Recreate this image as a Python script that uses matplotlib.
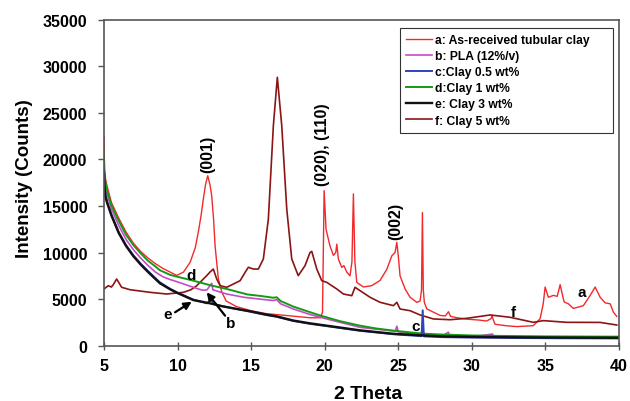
import matplotlib
matplotlib.use("Agg")
import matplotlib.pyplot as plt

plt.rcParams['font.family'] = ['Liberation Sans', 'DejaVu Sans']
plt.rcParams['font.weight'] = 'bold'

# ---- data (2-theta, counts) ----
series_a = [(5.0, 22500), (5.03, 19000), (5.1, 17900), (5.2, 17200), (5.5, 15400), (6.0, 13700),
            (6.5, 12200), (7.0, 11000), (7.5, 10100), (8.0, 9400), (8.5, 8800), (9.0, 8300),
            (9.5, 7900), (9.94, 7550), (10.4, 7900), (10.85, 8950), (11.2, 10500), (11.41, 12200),
            (11.6, 14000), (11.75, 15750), (11.9, 17300), (12.05, 18250), (12.2, 17300), (12.32, 16100),
            (12.45, 13500), (12.55, 10700), (12.77, 7200), (13.0, 5800), (13.3, 4800), (14.0, 4200),
            (15.0, 3750), (16.0, 3450), (17.0, 3300), (18.0, 3150), (19.0, 3000), (19.7, 3000),
            (19.85, 3600), (19.96, 16650), (20.09, 12500), (20.36, 10700), (20.59, 9700), (20.75, 10000),
            (20.82, 10900), (20.93, 9300), (21.16, 8400), (21.3, 8600), (21.5, 7900), (21.72, 7500),
            (21.85, 9000), (21.95, 16300), (22.05, 9000), (22.18, 6800), (22.63, 6300), (23.2, 6450),
            (23.76, 7000), (24.22, 8200), (24.56, 9650), (24.78, 10000), (24.9, 11100), (25.0, 9650),
            (25.12, 7500), (25.46, 6100), (25.8, 5200), (26.26, 4650), (26.48, 4800), (26.58, 6000),
            (26.64, 14300), (26.7, 6000), (26.77, 4650), (26.94, 3950), (27.39, 3600), (27.84, 3250),
            (28.2, 3200), (28.41, 3650), (28.55, 3150), (29.0, 3000), (29.66, 2850), (30.5, 2750),
            (31.0, 2650), (31.3, 2900), (31.38, 3250), (31.45, 2800), (31.58, 2300), (32.3, 2150),
            (33.05, 2050), (34.18, 2150), (34.64, 2900), (34.85, 4500), (34.98, 6300), (35.2, 5200),
            (35.54, 5400), (35.8, 5300), (36.0, 6550), (36.15, 5500), (36.27, 4700), (36.56, 4500),
            (36.9, 4000), (37.58, 4300), (38.04, 5400), (38.38, 6300), (38.72, 5200), (39.06, 4600),
            (39.4, 4500), (39.62, 3600), (39.85, 3150)]

series_b = [(5.0, 19500), (5.03, 17500), (5.1, 16800), (5.2, 16300), (5.5, 14700), (6.0, 12900),
            (6.5, 11400), (7.0, 10300), (7.5, 9400), (8.0, 8600), (8.5, 7900), (9.0, 7400),
            (9.5, 7100), (10.0, 6850), (11.07, 6270), (11.7, 5950), (12.0, 6000), (12.32, 6700),
            (12.4, 6000), (13.34, 5550), (14.5, 5200), (15.6, 5000), (16.5, 4850), (16.74, 4950),
            (17.0, 4500), (17.87, 3940), (19.0, 3350), (20.14, 2870), (22.4, 1970), (24.8, 1550),
            (24.9, 2100), (25.0, 1500), (26.0, 1250), (26.94, 1100), (28.0, 1050), (28.4, 1450),
            (28.5, 1000), (30.0, 950), (31.4, 1250), (31.5, 950), (35.0, 900), (40.0, 870)]

series_c = [(5.0, 19000), (5.03, 17200), (5.1, 16200), (5.2, 15500), (5.5, 14100), (6.0, 12200),
            (6.5, 10800), (7.0, 9700), (7.5, 8800), (8.0, 8000), (8.8, 6800), (9.5, 6100),
            (10.0, 5700), (11.07, 4950), (12.0, 4550), (12.3, 5000), (12.4, 4500), (13.0, 4250),
            (14.0, 3950), (14.93, 3650), (16.0, 3300), (16.74, 3100), (17.87, 2650), (19.0, 2350),
            (20.14, 2100), (22.4, 1600), (24.67, 1230), (26.58, 1020), (26.66, 3800), (26.74, 1000),
            (28.0, 920), (30.0, 870), (33.0, 830), (36.0, 800), (40.0, 780)]

series_d = [(5.0, 20400), (5.03, 18500), (5.1, 17500), (5.2, 16700), (5.5, 15100), (6.0, 13400),
            (6.5, 11900), (7.0, 10800), (7.5, 9900), (8.0, 9100), (8.5, 8500), (8.8, 8100),
            (9.5, 7600), (10.0, 7400), (11.07, 6980), (12.2, 6500), (13.34, 6090), (14.75, 5500),
            (15.6, 5350), (16.5, 5150), (16.74, 5200), (17.0, 4800), (17.87, 4200), (19.0, 3600),
            (19.68, 3250), (21.0, 2650), (22.4, 2150), (23.5, 1850), (24.67, 1620), (26.0, 1400),
            (26.94, 1270), (28.0, 1200), (30.0, 1100), (32.0, 1050), (35.0, 1000), (38.0, 980),
            (40.0, 970)]

series_e = [(5.0, 18500), (5.03, 17000), (5.1, 16000), (5.2, 15400), (5.5, 14000), (6.0, 12100),
            (6.5, 10700), (7.0, 9600), (7.5, 8700), (8.0, 7900), (8.8, 6700), (9.5, 6050),
            (10.0, 5650), (11.07, 4900), (12.2, 4550), (13.0, 4250), (14.0, 3950), (14.93, 3700),
            (16.0, 3350), (16.74, 3150), (17.87, 2700), (19.0, 2400), (20.14, 2150), (22.4, 1650),
            (24.67, 1280), (26.94, 1080), (28.0, 1000), (30.0, 950), (33.0, 900), (36.0, 870),
            (40.0, 850)]

series_f = [(5.0, 6090), (5.29, 6440), (5.5, 6300), (5.63, 6550), (5.86, 7160), (6.2, 6270),
            (6.77, 6010), (8.13, 5730), (9.26, 5550), (10.39, 5730), (10.9, 6000), (11.3, 6440),
            (11.98, 7520), (12.2, 7900), (12.43, 8230), (12.66, 7160), (12.89, 6440), (13.34, 6270),
            (14.25, 6980), (14.6, 7900), (14.81, 8420), (15.15, 8230), (15.49, 8230), (15.83, 9310),
            (16.17, 13600), (16.51, 23620), (16.78, 28820), (17.08, 23620), (17.42, 14680),
            (17.76, 9310), (18.2, 7520), (18.66, 8590), (19.0, 10000), (19.12, 10130), (19.46, 8230),
            (19.8, 6980), (20.14, 6800), (20.82, 6090), (21.27, 5550), (21.84, 5370), (22.06, 6270),
            (22.4, 5910), (23.08, 5200), (23.76, 4660), (24.67, 4300), (24.9, 4660), (25.12, 3940),
            (25.8, 3760), (26.48, 3300), (27.39, 2870), (28.52, 2790), (29.66, 2940), (31.24, 3300),
            (32.6, 3050), (34.18, 2510), (34.86, 2690), (36.45, 2510), (38.72, 2500), (39.85, 2220)]

labels = ['a: As-received tubular clay', 'b: PLA (12%/v)', 'c:Clay 0.5 wt%',
          'd:Clay 1 wt%', 'e: Clay 3 wt%', 'f: Clay 5 wt%']
colors = ['#f2292b', '#c84ac8', '#2f44b8', '#159a15', '#111111', '#8b1414']
widths = [1.0, 1.2, 1.4, 1.4, 1.7, 1.2]
all_series = [series_a, series_b, series_c, series_d, series_e, series_f]

x_ticks = [5, 10, 15, 20, 25, 30, 35, 40]
y_ticks = [0, 5000, 10000, 15000, 20000, 25000, 30000, 35000]

peak_labels = [('(001)', 12.05, 18700), ('(020), (110)', 19.85, 17200), ('(002)', 24.85, 11500)]
curve_letters = [('a', 37.5, 5750), ('f', 32.85, 3600), ('c', 26.2, 2150), ('d', 10.9, 7600),
                 ('e', 9.35, 3350), ('b', 13.6, 2450)]
# arrows: (tail x, tail y) -> (head x, head y)
arrows = [((9.83, 3590), (10.96, 4720)), ((13.23, 3220), (11.98, 5730))]

# ---- figure ----
fig = plt.figure(figsize=(6.3, 4.02), dpi=100)
ax = fig.add_axes([104/630, 1 - 346.7/402, (619-104)/630, (346.7-20.7)/402])

order = [0, 5, 1, 3, 2, 4]
handles = {}
for i in order:
    xs = [p[0] for p in all_series[i]]
    ys = [p[1] for p in all_series[i]]
    ln, = ax.plot(xs, ys, color=colors[i], lw=widths[i], label=labels[i])
    handles[i] = ln

ax.set_xlim(5, 40)
ax.set_ylim(0, 35000)
ax.set_xticks(x_ticks)
ax.set_yticks(y_ticks)
ax.set_xticklabels([str(v) for v in x_ticks], fontsize=11.5, fontweight='bold')
ax.set_yticklabels([str(v) for v in y_ticks], fontsize=11.5, fontweight='bold')
ax.tick_params(axis='x', direction='inout', length=6, width=1, color='#555555', pad=6)
ax.tick_params(axis='y', direction='out', length=4, width=1, color='#555555', pad=8)
for s in ax.spines.values():
    s.set_color('#555555')
    s.set_linewidth(1.2)

fig.text(368.6/630, 1 - 395/402, '2 Theta', fontsize=14, fontweight='bold', ha='center', va='center')
fig.text(25/630, 1 - 179/402, 'Intensity (Counts)', fontsize=13.5, fontweight='bold',
         ha='center', va='center', rotation=90)

for txt, x, y in peak_labels:
    ax.text(x, y, txt, rotation=90, ha='center', va='bottom', fontsize=11.5, fontweight='bold')
for txt, x, y in curve_letters:
    ax.text(x, y, txt, ha='center', va='center', fontsize=11, fontweight='bold')
for tail, head in arrows:
    ax.annotate('', xy=head, xytext=tail,
                arrowprops=dict(arrowstyle='-|>', color='black', lw=1.6, mutation_scale=11,
                                shrinkA=0, shrinkB=0))

leg = ax.legend([handles[i] for i in range(6)], labels,
                loc='upper left', bbox_to_anchor=(0.575, 0.6617, 0.4136, 0.3129), mode='expand',
                prop={'weight': 'bold', 'size': 8.7},
                handlelength=2.1, handletextpad=0.3, labelspacing=0.34,
                borderpad=0.5, frameon=True, fancybox=False, borderaxespad=0)
leg.get_frame().set_edgecolor('black')
leg.get_frame().set_linewidth(0.8)

fig.savefig('out.png', dpi=100)
